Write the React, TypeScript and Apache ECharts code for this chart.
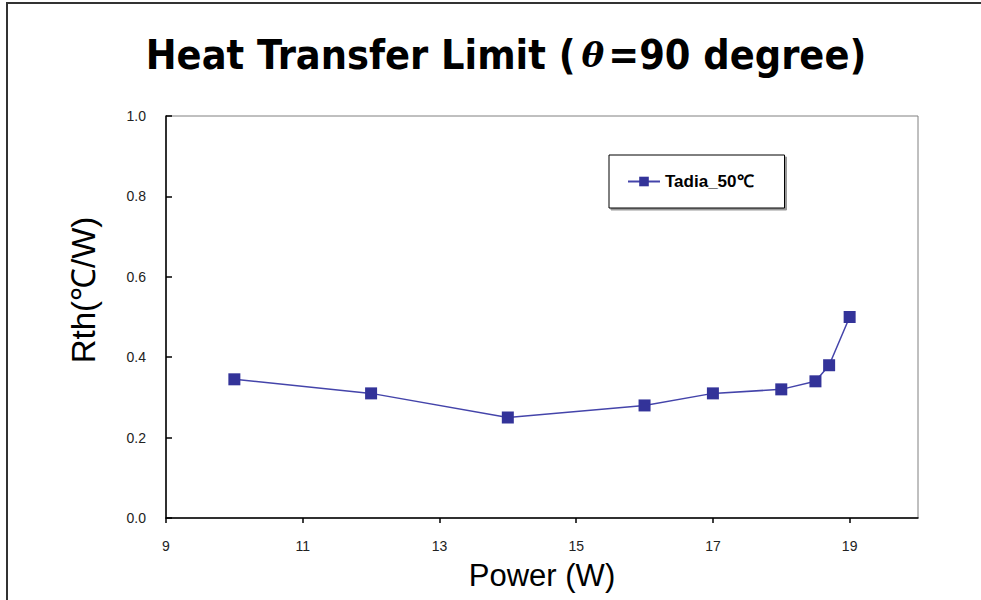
import React, { useEffect, useRef } from "react";
import * as echarts from "echarts";

const powerW = [10, 12, 14, 16, 17, 18, 18.5, 18.7, 19];
const rthValues = [0.345, 0.31, 0.25, 0.28, 0.31, 0.32, 0.34, 0.38, 0.5];
const xTickLabels = [9, 11, 13, 15, 17, 19];
const seriesName = "Tadia_50℃";

export default function App() {
  const ref = useRef<HTMLDivElement>(null);
  useEffect(() => {
    if (!ref.current) return;
    const chart = echarts.init(ref.current, null, { renderer: "svg" });
    const data = powerW.map((x, i) => [x, rthValues[i]]);
    chart.setOption({
      animation: false,
      backgroundColor: "#ffffff",
      title: {
        text: "Heat Transfer Limit ({t|θ}=90 degree)",
        left: 501,
        textAlign: "center",
        top: 29,
        textStyle: {
          fontFamily: "DejaVu Sans Condensed",
          fontWeight: "bold",
          fontSize: 41,
          color: "#000",
          rich: {
            t: {
              fontFamily: "DejaVu Serif",
              fontStyle: "italic",
              fontSize: 34,
              color: "#000",
              padding: [0, 4, 0, 6],
            },
          },
        },
      },
      legend: {
        left: 609,
        top: 155,
        orient: "vertical",
        data: [seriesName],
        itemWidth: 32,
        itemHeight: 12,
        itemGap: 4,
        padding: [18, 31, 18, 18],
        borderColor: "#000",
        borderWidth: 1,
        borderRadius: 0,
        backgroundColor: "#fff",
        shadowColor: "rgba(0,0,0,0.4)",
        shadowOffsetX: 2,
        shadowOffsetY: 2,
        shadowBlur: 0,
        textStyle: {
          fontFamily: "Liberation Sans",
          fontWeight: "bold",
          fontSize: 17,
          color: "#000",
        },
      },
      grid: {
        left: 166,
        top: 116,
        width: 752,
        height: 402,
        show: true,
        borderColor: "#808080",
        borderWidth: 1,
        backgroundColor: "#fff",
      },
      xAxis: {
        type: "value",
        min: 9,
        max: 20,
        name: "Power (W)",
        nameLocation: "middle",
        nameGap: 42,
        nameTextStyle: {
          fontFamily: "Liberation Sans",
          fontSize: 31,
          color: "#000",
        },
        splitLine: { show: false },
        axisLine: { show: true, lineStyle: { color: "#000", width: 1.5 } },
        axisTick: {
          show: true,
          length: 5,
          customValues: xTickLabels,
          lineStyle: { color: "#000", width: 1.5 },
        },
        axisLabel: {
          customValues: xTickLabels,
          margin: 21,
          fontFamily: "Liberation Sans",
          fontSize: 14,
          color: "#222",
        },
      },
      yAxis: {
        type: "value",
        min: 0,
        max: 1,
        interval: 0.2,
        name: "Rth(℃/W)",
        nameLocation: "middle",
        nameGap: 66,
        nameTextStyle: {
          fontFamily: "Liberation Sans",
          fontSize: 33,
          color: "#000",
          padding: [0, 0, 0, 54],
        },
        splitLine: { show: false },
        axisLine: { show: true, lineStyle: { color: "#000", width: 1.5 } },
        axisTick: {
          show: true,
          inside: true,
          length: 6,
          lineStyle: { color: "#000", width: 1.5 },
        },
        axisLabel: {
          margin: 20,
          fontFamily: "Liberation Sans",
          fontSize: 14,
          color: "#222",
          formatter: (v: number) => v.toFixed(1),
        },
      },
      graphic: [
        {
          type: "rect",
          shape: { x: 7, y: 3, width: 1200, height: 800 },
          style: { fill: "none", stroke: "#333", lineWidth: 2 },
          silent: true,
          z: 100,
        },
      ],
      series: [
        {
          name: seriesName,
          type: "line",
          data,
          color: "#333399",
          symbol: "rect",
          symbolSize: 12,
          lineStyle: { color: "#4444aa", width: 1.5 },
          itemStyle: { color: "#333399" },
        },
      ],
    });
    return () => chart.dispose();
  }, []);
  return (
    <div
      ref={ref}
      style={{ position: "absolute", left: 0, top: 0, width: 981, height: 600 }}
    />
  );
}
